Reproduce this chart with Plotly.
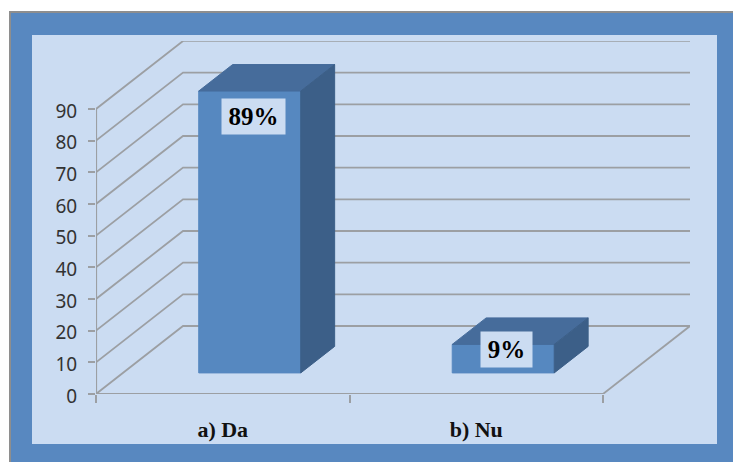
import plotly.graph_objects as go

categories = ["a) Da", "b) Nu"]
values = [89, 9]
labels = ["89%", "9%"]
y_ticks = [0, 10, 20, 30, 40, 50, 60, 70, 80, 90]

W, H = 733, 462
L, R, T, B = 96, 690, 41, 394
X_MAX = (R - L) / 253.5
Y_MAX = (B - T) / 3.167
DX, DY = 87 / 253.5, 68 / 3.167      # oblique shift of full depth, in data units
GRID = "#9C9FA3"
FRONT, TOP, SIDE = "#5688C0", "#466C9B", "#3C5F88"
PANEL = "#CBDCF2"
FRAME = "#5888C0"
HALF = 102 / 253.5 / 2
D0, D1 = 0.31, 0.70


def p(cat, val, d):
    return cat + DX * d, val + DY * d


def poly(pts, color):
    xs, ys = zip(*pts)
    return go.Scatter(x=list(xs) + [xs[0]], y=list(ys) + [ys[0]], mode="lines", fill="toself",
                      fillcolor=color, line=dict(color=color, width=1), hoverinfo="skip", showlegend=False)


def line(pts, width=1.8):
    xs, ys = zip(*pts)
    return go.Scatter(x=list(xs), y=list(ys), mode="lines", line=dict(color=GRID, width=width),
                      hoverinfo="skip", showlegend=False, cliponaxis=False)


fig = go.Figure()
for v in y_ticks:
    fig.add_trace(line([p(0, v, 0), p(0, v, 1), p(2, v, 1)]))
fig.add_trace(line([p(2, 0, 0), p(2, 0, 1)]))
fig.add_trace(line([p(0, 0, 0), p(2, 0, 0)], 2.2))
fig.add_trace(line([p(0, 0, 0), p(0, 90, 0)], 2.2))

for i, (v, lab) in enumerate(zip(values, labels)):
    c = i + 0.5
    a, b = c - HALF, c + HALF
    fig.add_trace(poly([p(a, 0, D0), p(b, 0, D0), p(b, v, D0), p(a, v, D0)], FRONT))
    fig.add_trace(poly([p(a, v, D0), p(b, v, D0), p(b, v, D1), p(a, v, D1)], TOP))
    fig.add_trace(poly([p(b, 0, D0), p(b, 0, D1), p(b, v, D1), p(b, v, D0)], SIDE))
    ax, ay = p(c, v, D0)
    w = 61 if i == 0 else 49
    yshift = -25.5 if i == 0 else -5
    xshift = 3.5
    fig.add_annotation(x=ax, y=ay, xref="x", yref="y", text=lab, showarrow=False,
                       width=w, height=33, bgcolor=PANEL, xanchor="center", yanchor="middle",
                       xshift=xshift, yshift=yshift, align="center",
                       font=dict(family="Liberation Serif", size=25, color="#000000", weight="bold"))

# invisible carrier for the category labels on the second x axis
fig.add_trace(go.Scatter(x=[0.5, 1.5], y=[0, 0], xaxis="x2", mode="markers", opacity=0,
                         hoverinfo="skip", showlegend=False))

def px(x): return (x - L) / (R - L)
def py(y): return (B - y) / (B - T)

fig.add_shape(type="rect", xref="paper", yref="paper", x0=px(10), x1=px(745), y0=py(12), y1=py(475),
              fillcolor=FRAME, line=dict(color="#8E8E8E", width=2), layer="below")
fig.add_shape(type="rect", xref="paper", yref="paper", x0=px(32), x1=px(717), y0=py(35), y1=py(444),
              fillcolor=PANEL, line=dict(width=0), layer="below")

fig.update_layout(
    width=W, height=H, margin=dict(l=L, r=W - R, t=T, b=H - B, pad=0),
    paper_bgcolor="white", plot_bgcolor="rgba(0,0,0,0)", showlegend=False,
    xaxis=dict(range=[0, X_MAX], tickvals=[0, 1, 2], ticktext=["", "", ""], ticks="outside", ticklen=8,
               tickwidth=2, tickcolor=GRID, showgrid=False, zeroline=False, showline=False, fixedrange=True),
    xaxis2=dict(range=[0, X_MAX], overlaying="x", side="bottom", tickmode="array", tickvals=[0.5, 1.5],
                ticktext=categories, ticks="", showgrid=False, zeroline=False, showline=False,
                ticklabelstandoff=20, fixedrange=True,
                tickfont=dict(family="Liberation Serif", size=22, color="#111111", weight="bold")),
    yaxis=dict(range=[0, Y_MAX], tickvals=y_ticks, ticks="outside", ticklen=7, tickwidth=2, tickcolor=GRID,
               showgrid=False, zeroline=False, showline=False, ticklabelstandoff=7, ticklabelshift=2,
               fixedrange=True, tickfont=dict(family="Noto Sans", size=19, color="#333333")),
)

fig.write_html("out.html", config={"displayModeBar": False},
               post_script="document.body.style.margin='0';document.body.style.overflow='hidden';")
